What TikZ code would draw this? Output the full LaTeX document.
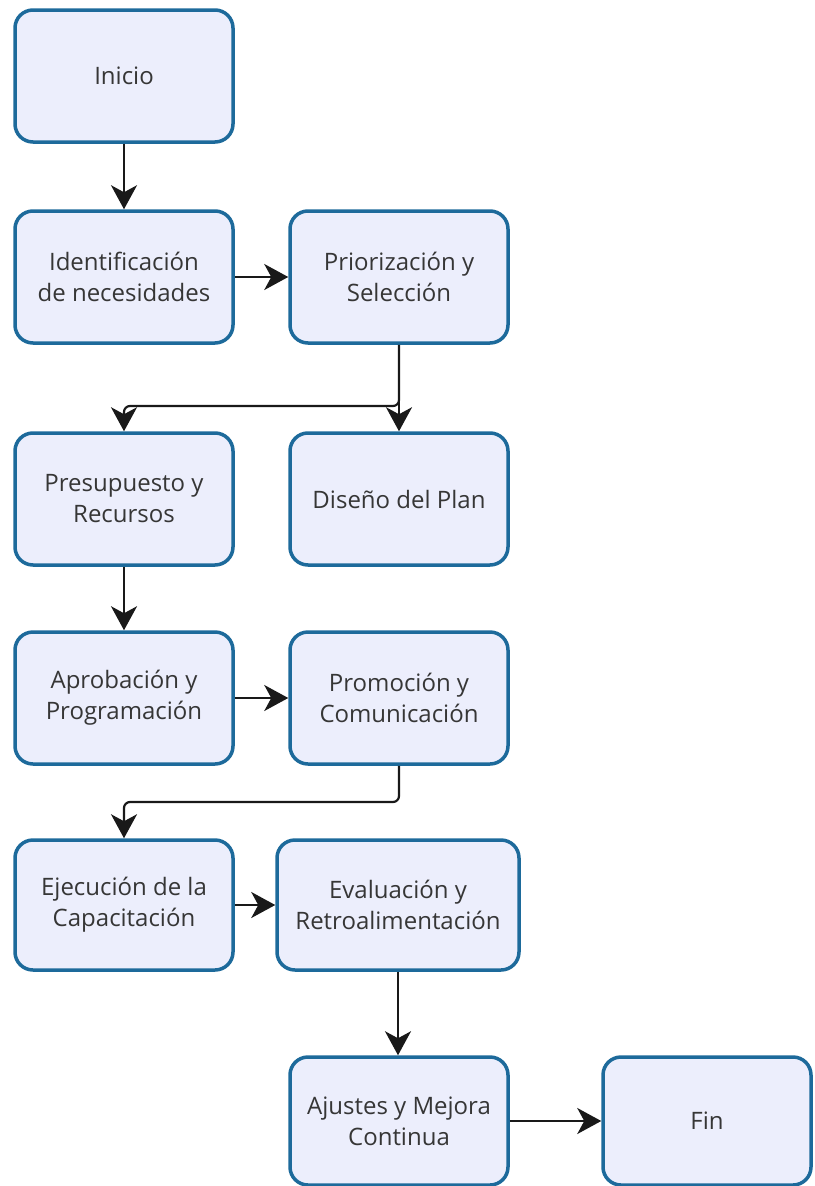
\documentclass[tikz,border=0pt]{standalone}
\usepackage{fontspec}
\setmainfont{Open Sans}
\usetikzlibrary{arrows.meta}
\definecolor{boxfill}{HTML}{ECEEFC}
\definecolor{boxline}{HTML}{1D6A9B}
\definecolor{txt}{HTML}{363636}
\tikzset{
  stepbox/.style={draw=boxline, fill=boxfill, line width=3.5pt,
    rounded corners=18pt, minimum width=218pt, minimum height=132pt,
    align=center, text=txt, inner sep=0pt,
    font=\fontsize{24}{31}\selectfont},
  flow/.style={draw=black!90, line width=2.2pt, rounded corners=6pt,
    -{Stealth[length=24pt,width=26pt,inset=7pt]}}
}
\begin{document}
\begin{tikzpicture}[x=1pt,y=-1pt]
\useasboundingbox (0,0) rectangle (814,1186);
% process steps
\node[stepbox] (ini) at (124,76) {Inicio};
\node[stepbox] (ide) at (124,277) {Identificación\\de necesidades};
\node[stepbox] (pri) at (399,277) {Priorización y\\Selección};
\node[stepbox] (pre) at (124,499) {Presupuesto y\\Recursos};
\node[stepbox] (dis) at (399,499) {Diseño del Plan};
\node[stepbox] (apr) at (124,698) {Aprobación y\\Programación};
\node[stepbox] (pro) at (399,698) {Promoción y\\Comunicación};
\node[stepbox, minimum height=130pt] (eje) at (124,905) {Ejecución de la\\Capacitación};
\node[stepbox, minimum height=130pt, minimum width=242pt] (eva) at (398,905) {Evaluación y\\Retroalimentación};
\node[stepbox, minimum height=128pt] (aju) at (399,1121) {Ajustes y Mejora\\Continua};
\node[stepbox, minimum height=128pt, minimum width=208pt] (fin) at (707,1121) {Fin};
% bend points of the elbow connectors
\coordinate (b1) at (124,406);
\coordinate (b2) at (124,802);
% connectors
\draw[flow] (ini) -- (ide);
\draw[flow] (ide) -- (pri);
\draw[flow] (pri) -- (dis);
\draw[flow] (pri.south) |- (b1) -- (pre.north);
\draw[flow] (pre) -- (apr);
\draw[flow] (apr) -- (pro);
\draw[flow] (pro.south) |- (b2) -- (eje.north);
\draw[flow] (eje) -- (eva);
\draw[flow] (eva.south) -- (aju.north -| eva.south);
\draw[flow] (aju) -- (fin);
\end{tikzpicture}
\end{document}
